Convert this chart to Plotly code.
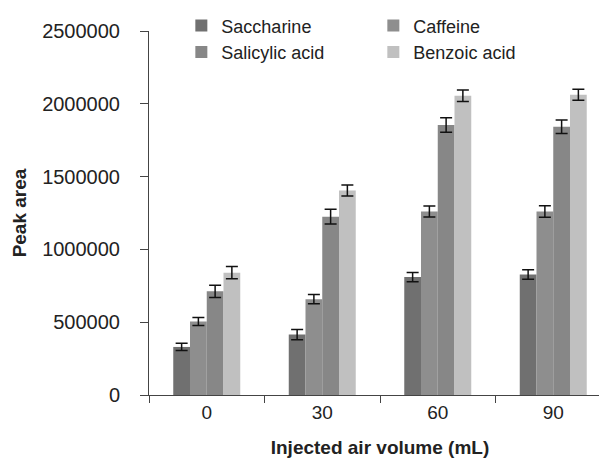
import plotly.graph_objects as go

categories = ["0", "30", "60", "90"]
series_names = ["Saccharine", "Caffeine", "Salicylic acid", "Benzoic acid"]
saccharine = [330000, 415000, 810000, 828000]
caffeine = [505000, 658000, 1260000, 1260000]
salicylic = [712000, 1225000, 1855000, 1842000]
benzoic = [840000, 1405000, 2055000, 2062000]
saccharine_err = [25000, 35000, 32000, 33000]
caffeine_err = [27000, 32000, 38000, 40000]
salicylic_err = [42000, 50000, 50000, 46000]
benzoic_err = [42000, 38000, 40000, 38000]
colors = ["#707070", "#8e8e8e", "#878787", "#c0c0c0"]

values = [saccharine, caffeine, salicylic, benzoic]
errors = [saccharine_err, caffeine_err, salicylic_err, benzoic_err]

fig = go.Figure()
for name, v, e, c in zip(series_names, values, errors, colors):
    fig.add_trace(go.Bar(
        name=name, x=categories, y=v, marker=dict(color=c, line=dict(width=0)),
        error_y=dict(type="data", array=e, visible=True, color="#111111", thickness=1.5, width=6),
    ))

font_family = "Liberation Sans, Arial, sans-serif"
fig.update_layout(
    width=607, height=460,
    margin=dict(l=141, r=4, t=23, b=73, autoexpand=False),
    paper_bgcolor="white", plot_bgcolor="white",
    barmode="group", bargap=0.42, bargroupgap=0,
    font=dict(family=font_family, size=19, color="#222222"),
    legend=dict(orientation="h", x=0.07, y=1.065, xanchor="left", yanchor="top",
                entrywidth=147, entrywidthmode="pixels",
                font=dict(size=18, color="#222222"), bgcolor="rgba(0,0,0,0)",
                tracegroupgap=0, itemwidth=30),
    xaxis=dict(type="category", showline=True, linecolor="#444444", linewidth=1,
               ticks="outside", tickson="boundaries", ticklen=7, tickcolor="#444444",
               tickfont=dict(size=19),
               title=dict(text="<b>Injected air volume (mL)</b>", font=dict(size=19), standoff=18)),
    yaxis=dict(range=[0, 2500000], dtick=500000, showline=True, linecolor="#444444", linewidth=1,
               ticks="outside", ticklen=8, tickcolor="#444444", showgrid=False, zeroline=False,
               tickformat="d", tickfont=dict(size=20), ticklabelstandoff=16,
               title=dict(text="<b>Peak area</b>", font=dict(size=19), standoff=10)),
)
fig.write_html("out.html")
